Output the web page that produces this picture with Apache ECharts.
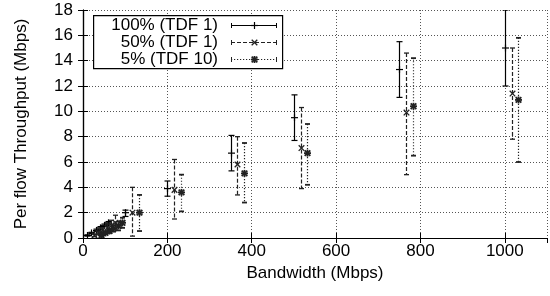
<!DOCTYPE html>
<html>
<head>
<meta charset="utf-8">
<script src="https://cdn.jsdelivr.net/npm/echarts@6/dist/echarts.min.js"></script>
<style>
  html, body { margin: 0; padding: 0; background: #fff; }
  #main { width: 550px; height: 296px; }
</style>
</head>
<body>
<div id="main"></div>
<script>
// bandwidth settings (Mbps)
const bandwidth = [10, 20, 30, 40, 50, 60, 100, 200, 350, 500, 750, 1000];
// the 50% and 5% runs are drawn shifted right so the bars don't overlap
const shift50 = 16;
const shift5 = 32;

// 100% (TDF 1)
const mean100 = [0.2, 0.4, 0.6, 0.8, 1.0, 1.2, 2.0, 3.9, 6.7, 9.5, 13.3, 15.0];
const low100  = [0.15, 0.35, 0.5, 0.7, 0.9, 1.1, 1.7, 3.3, 5.3, 7.7, 11.1, 12.0];
const high100 = [0.25, 0.45, 0.7, 0.9, 1.1, 1.3, 2.2, 4.5, 8.1, 11.3, 15.5, 18.0];

// 50% (TDF 1)
const mean50 = [0.2, 0.4, 0.6, 0.8, 1.0, 1.2, 2.0, 3.8, 5.8, 7.1, 9.9, 11.4];
const low50  = [0.1, 0.25, 0.4, 0.5, 0.6, 0.7, 0.15, 1.5, 3.4, 3.9, 5.0, 7.8];
const high50 = [0.3, 0.55, 0.8, 1.1, 1.4, 1.8, 4.0, 6.2, 8.0, 10.3, 14.6, 15.0];

// 5% (TDF 10)
const mean5 = [0.2, 0.4, 0.55, 0.75, 0.95, 1.2, 2.0, 3.6, 5.1, 6.7, 10.4, 10.9];
const low5  = [0.1, 0.3, 0.4, 0.5, 0.6, 0.8, 0.55, 2.1, 2.8, 4.2, 6.5, 6.0];
const high5 = [0.3, 0.5, 0.7, 1.0, 1.3, 1.6, 3.4, 5.0, 7.5, 9.0, 14.2, 15.8];

const xTicks = [0, 200, 400, 600, 800, 1000];
const yTicks = [0, 2, 4, 6, 8, 10, 12, 14, 16, 18];

function rows(shift, mean, low, high) {
  return bandwidth.map((b, i) => [b + shift, mean[i], low[i], high[i]]);
}

function markerLines(kind, cx, cy, r) {
  const out = [];
  if (kind === 'plus' || kind === 'star') {
    out.push([cx - r, cy, cx + r, cy], [cx, cy - r, cx, cy + r]);
  }
  if (kind === 'cross' || kind === 'star') {
    const d = r * 0.8;
    out.push([cx - d, cy - d, cx + d, cy + d], [cx - d, cy + d, cx + d, cy - d]);
  }
  return out;
}

function errRender(opt) {
  return function (params, api) {
    const x = api.value(0);
    const pm = api.coord([x, api.value(1)]);
    const plo = api.coord([x, api.value(2)]);
    const phi = api.coord([x, api.value(3)]);
    const px = Math.round(pm[0]) + 0.5;
    const bar = { stroke: opt.color, lineWidth: opt.barWidth, lineDash: opt.dash, fill: null };
    const solid = { stroke: opt.color, lineWidth: opt.markWidth, fill: null };
    const kids = [
      { type: 'line', shape: { x1: px, y1: phi[1], x2: px, y2: plo[1] }, style: bar },
      { type: 'line', shape: { x1: px - opt.cap, y1: phi[1], x2: px + opt.cap, y2: phi[1] }, style: solid },
      { type: 'line', shape: { x1: px - opt.cap, y1: plo[1], x2: px + opt.cap, y2: plo[1] }, style: solid }
    ];
    markerLines(opt.marker, px, pm[1], 3.5).forEach(s => {
      kids.push({ type: 'line', shape: { x1: s[0], y1: s[1], x2: s[2], y2: s[3] }, style: solid });
    });
    return { type: 'group', children: kids };
  };
}

const styles = [
  { name: '100% (TDF 1)', color: '#000', dash: null, cap: 3, marker: 'plus', markWidth: 1.2, barWidth: 1.2 },
  { name: '50% (TDF 1)', color: '#222', dash: [4, 2], cap: 2.5, marker: 'cross', markWidth: 1.3, barWidth: 1.2 },
  { name: '5% (TDF 10)', color: '#222', dash: [1.2, 1.8], cap: 2.5, marker: 'star', markWidth: 1.8, barWidth: 1.2 }
];
const seriesData = [
  rows(0, mean100, low100, high100),
  rows(shift50, mean50, low50, high50),
  rows(shift5, mean5, low5, high5)
];

// legend box drawn by hand (text right-aligned, sample on the right)
const legendEls = [{
  type: 'rect', left: 93, top: 15, z: 10,
  shape: { width: 189, height: 53 },
  style: { fill: '#fff', stroke: '#000', lineWidth: 1.2 }
}];
const rowY = [25.5, 42.5, 59.5];
styles.forEach((s, i) => {
  const y = rowY[i];
  legendEls.push({
    type: 'text', x: 218, y: y, z: 11,
    style: { text: s.name, textAlign: 'right', textVerticalAlign: 'middle',
             font: '17px "Liberation Sans", Arial, sans-serif', fill: '#000' }
  });
  const st = { stroke: s.color, lineWidth: s.barWidth, lineDash: s.dash };
  legendEls.push({ type: 'line', z: 11, shape: { x1: 231, y1: y, x2: 277, y2: y }, style: st });
  legendEls.push({ type: 'line', z: 11, shape: { x1: 231.5, y1: y - 2.5, x2: 231.5, y2: y + 2.5 }, style: { stroke: s.color, lineWidth: 1 } });
  legendEls.push({ type: 'line', z: 11, shape: { x1: 276.5, y1: y - 2.5, x2: 276.5, y2: y + 2.5 }, style: { stroke: s.color, lineWidth: 1 } });
  markerLines(s.marker, 254.5, y, 3.5).forEach(m => {
    legendEls.push({ type: 'line', z: 11, shape: { x1: m[0], y1: m[1], x2: m[2], y2: m[3] },
                     style: { stroke: s.color, lineWidth: s.markWidth } });
  });
});

const font = '"Liberation Sans", Arial, sans-serif';
const chart = echarts.init(document.getElementById('main'));
chart.setOption({
  animation: false,
  grid: { left: 83, right: 3, top: 10, bottom: 58 },
  xAxis: [{
    type: 'value', min: 0, max: 1100, interval: 200, position: 'bottom',
    name: 'Bandwidth (Mbps)', nameLocation: 'middle', nameGap: 26,
    nameTextStyle: { fontFamily: font, fontSize: 17, color: '#000' },
    axisLine: { lineStyle: { color: '#000', width: 1.2 } },
    axisTick: { inside: true, length: 5, lineStyle: { color: '#000' } },
    axisLabel: { fontFamily: font, fontSize: 17, color: '#000', margin: 5, showMaxLabel: false,
                 formatter: v => xTicks.indexOf(v) >= 0 ? String(v) : '' },
    splitLine: { show: true, lineStyle: { color: '#555', type: [1, 2] } }
  }, {
    type: 'value', min: 0, max: 1100, interval: 200, position: 'top',
    axisLine: { show: true, lineStyle: { color: '#000', width: 1.2 } },
    axisTick: { show: true, inside: true, length: 5, lineStyle: { color: '#000' } },
    axisLabel: { show: false }, splitLine: { show: false }
  }],
  yAxis: [{
    type: 'value', min: 0, max: 18, interval: 2, position: 'left',
    name: 'Per flow Throughput (Mbps)', nameLocation: 'middle', nameGap: 53,
    nameTextStyle: { fontFamily: font, fontSize: 17, color: '#000' },
    axisLine: { show: true, lineStyle: { color: '#000', width: 1.2 } },
    axisTick: { show: true, inside: true, length: 5, lineStyle: { color: '#000' } },
    axisLabel: { fontFamily: font, fontSize: 17, color: '#000', margin: 10,
                 formatter: v => yTicks.indexOf(v) >= 0 ? String(v) : '' },
    splitLine: { show: true, lineStyle: { color: '#555', type: [1, 2] } }
  }, {
    type: 'value', min: 0, max: 18, interval: 2, position: 'right',
    axisLine: { show: true, lineStyle: { color: '#000', width: 1.2 } },
    axisTick: { show: true, inside: true, length: 5, lineStyle: { color: '#000' } },
    axisLabel: { show: false }, splitLine: { show: false }
  }],
  graphic: legendEls,
  series: styles.map((s, i) => ({
    type: 'custom', name: s.name, clip: true,
    xAxisIndex: 0, yAxisIndex: 0,
    renderItem: errRender(s),
    encode: { x: 0, y: [1, 2, 3] },
    data: seriesData[i]
  }))
});
</script>
</body>
</html>
